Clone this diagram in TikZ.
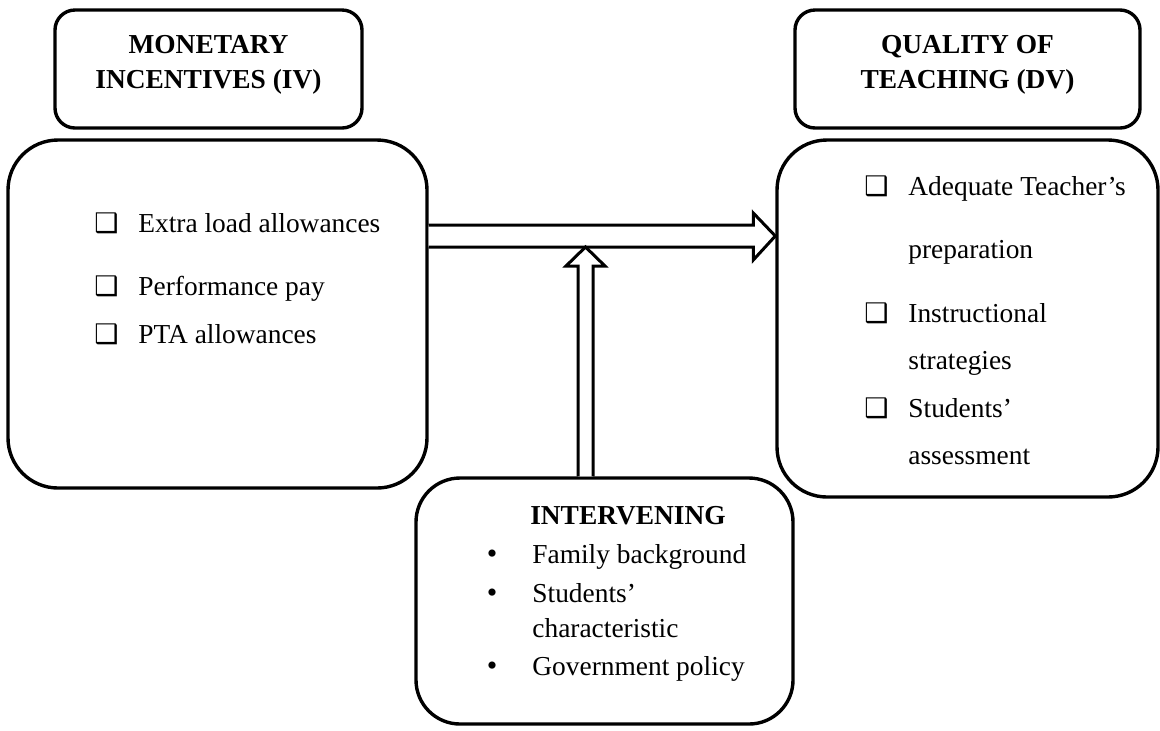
\documentclass[tikz,border=0pt]{standalone}
\usepackage{fontspec}
\setmainfont{Liberation Serif}
\newfontfamily\symfont{DejaVu Sans}
\usetikzlibrary{calc}
\begin{document}
\begin{tikzpicture}[x=0.5pt,y=-0.5pt,
  box/.style={draw, line width=1.7pt, rounded corners=#1, inner sep=0pt},
  ttl/.style={inner sep=0pt, anchor=base, font=\fontsize{13.7}{17.5}\selectfont\bfseries},
  itm/.style={inner sep=0pt, anchor=base west, font=\fontsize{13.7}{17.5}\selectfont},
  chk/.style={inner sep=0pt, anchor=base west, font=\symfont\fontsize{13.5}{14}\selectfont},
  bul/.style={inner sep=0pt, anchor=base, font=\fontsize{15}{17.5}\selectfont},
  arr/.style={draw, line width=1.5pt, fill=white, line join=miter}]
\useasboundingbox (0,0) rectangle (1160,730);
% boxes
\node[box=10pt, minimum width=153.5pt, minimum height=59pt] (tiv) at (208.5,69) {};
\node[box=25pt, minimum width=209.5pt, minimum height=174pt] (biv) at (217.5,314) {};
\node[box=10pt, minimum width=172.5pt, minimum height=59pt] (tdv) at (967.5,69) {};
\node[box=25pt, minimum width=190.5pt, minimum height=178.5pt] (bdv) at (967.5,318.5) {};
\node[box=22pt, minimum width=188.5pt, minimum height=123pt] (bint) at (604.5,601) {};
% titles
\node[ttl] (t1a) at (208.5,53) {MONETARY};
\node[ttl] (t1b) at (208.5,88) {INCENTIVES (IV)};
\node[ttl] (t2a) at (967.5,53) {QUALITY OF};
\node[ttl] (t2b) at (967.5,88) {TEACHING (DV)};
% left items
\node[chk] (c1) at (94,232) {❑};
\node[itm] (i1) at (138,232) {Extra load allowances};
\node[chk] (c2) at (94,295) {❑};
\node[itm] (i2) at (138,295) {Performance pay};
\node[chk] (c3) at (94,343) {❑};
\node[itm] (i3) at (138,343) {PTA allowances};
% right items
\node[chk] (d1) at (864,195) {❑};
\node[itm] (j1) at (908,195) {Adequate Teacher’s};
\node[itm] (j1b) at (908,258) {preparation};
\node[chk] (d2) at (864,322) {❑};
\node[itm] (j2) at (908,322) {Instructional};
\node[itm] (j2b) at (908,369) {strategies};
\node[chk] (d3) at (864,417) {❑};
\node[itm] (j3) at (908,417) {Students’};
\node[itm] (j3b) at (908,464) {assessment};
% intervening
\node[ttl] (t3) at (628,524) {INTERVENING};
\node[bul] (b1) at (492,563) {•};
\node[itm] (k1) at (532,563) {Family background};
\node[bul] (b2) at (492,602) {•};
\node[itm] (k2) at (532,602) {Students’};
\node[itm] (k2b) at (532,637) {characteristic};
\node[bul] (b3) at (492,675) {•};
\node[itm] (k3) at (532,675) {Government policy};
% arrows
\coordinate (hy1) at (0,225);
\coordinate (hy2) at (0,247);
\coordinate (hyc) at (0,236);
\draw[arr] (biv.east |- hy1) -- ($(bdv.west |- hy1)+(-22,0)$) -- ($(bdv.west |- hy1)+(-22,-12)$)
  -- (bdv.west |- hyc) -- ($(bdv.west |- hy2)+(-22,13)$) -- ($(bdv.west |- hy2)+(-22,0)$)
  -- (biv.east |- hy2);
\coordinate (vx1) at (578,0);
\coordinate (vx2) at (593,0);
\coordinate (vxc) at (585.5,0);
\coordinate (vhb) at (0,266);
\draw[arr] (bint.north -| vx1) -- (vx1 |- vhb) -- ($(vx1 |- vhb)+(-12,0)$) -- (vxc |- hy2)
  -- ($(vx2 |- vhb)+(12,0)$) -- (vx2 |- vhb) -- (bint.north -| vx2);
\end{tikzpicture}
\end{document}
